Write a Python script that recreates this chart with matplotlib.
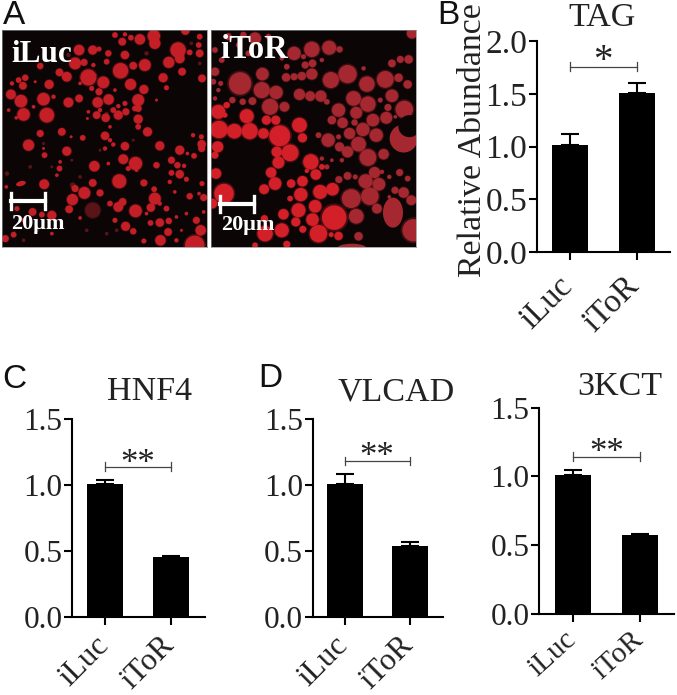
import matplotlib
matplotlib.use("Agg")
import matplotlib.pyplot as plt
from matplotlib.patches import Circle, Ellipse

W, H = 677, 695

categories = ["iLuc", "iToR"]

tag_values = [1.01, 1.51]
tag_errors = [0.11, 0.09]
hnf4_values = [1.01, 0.455]
hnf4_errors = [0.025, 0.01]
vlcad_values = [1.01, 0.54]
vlcad_errors = [0.07, 0.03]
kct_values = [1.01, 0.575]
kct_errors = [0.04, 0.005]

tag_ticks = [0.0, 0.5, 1.0, 1.5, 2.0]
other_ticks = [0.0, 0.5, 1.0, 1.5]

# droplets: x, y, radius
iluc_bright = [
    (345,105,8),(375,103,6),(367,125,11),(393,113,8),(420,118,15),(462,108,18),(465,130,16),
    (535,150,22),(540,175,14),(557,92,12),(600,110,8),(597,135,8),(600,160,11),(570,157,8),
    (237,150,15),(278,150,13),(297,147,7),(325,160,9),(375,165,12),(320,185,8),(225,190,17),
    (252,187,10),(507,187,16),(435,195,17),(400,197,11),(362,212,22),(265,232,23),(200,230,14),
    (178,217,11),(120,198,9),(310,247,17),(392,253,16),(547,215,11),(490,233,13),(607,235,11),
    (75,233,9),(55,240,8),(147,253,13),(68,257,11),(105,245,4),(32,283,14),(500,263,7),
    (432,268,13),(297,275,10),(275,265,7),(62,303,18),(130,297,18),(205,307,14),(237,295,11),
    (293,307,15),(326,298,15),(415,300,17),(375,310,7),(355,318,6),(340,330,8),(378,335,10),
    (355,345,13),(290,345,11),(317,353,12),(415,325,10),(415,357,13),(70,343,18),(140,345,21),
    (48,353,5),(265,335,5),(262,355,4),(415,380,8),(443,395,13),(120,400,10),(185,395,11),
    (248,413,8),(213,410,4),(315,407,12),(580,405,6),(605,410,7),(606,432,12),(606,445,10),
    (85,435,16),(330,420,6),(340,433,6),(375,438,12),(480,437,13),(540,450,13),(315,445,6),
    (200,453,13),(130,445,4),(133,465,8),(583,467,8),(563,460,5),(370,477,14),(407,490,19),
    (283,498,15),(180,485,5),(515,480,10),(470,495,9),(325,490,5),(178,505,8),(170,525,5),
    (533,495,9),(553,497,6),(385,505,7),(410,510,5),(515,518,8),(540,522,12),(358,543,20),
    (278,548,11),(432,548,10),(132,552,14),(560,537,7),(607,550,7),(300,578,10),(253,578,17),
    (225,565,10),(465,595,17),(463,567,8),(217,598,16),(570,588,9),(598,580,5),(612,592,10),
    (330,610,8),(368,605,11),(355,620,14),(407,632,18),(207,627,11),(453,622,12),(155,645,13),
    (97,635,11),(125,643,8),(500,625,8),(530,650,5),(240,653,5),(345,660,7),(377,678,13),
    (400,693,9),(452,668,8),(480,667,12),(507,662,9),(590,660,10),(612,635,5),(603,690,15),
    (505,695,11),(482,720,15),(432,722,7),(585,735,28),(530,720,6),(15,715,10),(40,703,8),
    (50,625,7),(18,560,5),(70,660,6),(155,700,5),(405,325,8),(330,380,5),(300,330,6),
    (470,300,4),(510,545,6),(525,575,5),(440,640,5),(480,610,6),(560,640,5),(545,690,4),
    (280,195,6),(345,270,5),(160,290,6),(100,320,5),(25,330,5),(35,250,6),(240,250,5),
]
iluc_dim = [
    (278,630,22),(218,555,8),(155,500,4),(600,190,5),(575,130,5),(440,160,6),(285,225,5),
    (320,340,5),(130,430,4),(20,520,6),(110,690,5),(260,690,5),(320,700,5),(205,165,6),
    (240,530,5),(215,480,4),(350,690,5),(470,720,4),(300,450,4),(400,420,4),(90,500,5),
    (60,600,5),(180,660,4),(70,720,5),
]
itor_bright = [
    (40,335,20),(125,348,20),(42,388,25),(88,393,21),(134,393,23),(175,400,15),(224,407,30),
    (283,375,21),(292,413,13),(212,360,13),(184,360,13),(38,440,16),(215,455,15),(255,458,24),
    (220,487,17),(198,517,15),(210,550,18),(177,567,14),(33,520,15),(57,580,28),(317,485,22),
    (292,543,15),(258,550,12),(287,583,19),(332,523,15),(345,575,20),(382,567,18),(280,630,20),
    (330,618,18),(235,642,15),(272,665,13),(322,658,18),(387,652,35),(340,700,25),(230,690,20),
    (180,700,22),(293,687,10),(378,703,7),(400,707,12),(245,732,10),(65,315,9),(60,345,7),
    (22,610,14),(30,465,10),(178,655,10),(255,595,8),(350,500,8),(305,512,6),(150,735,8),
]
itor_dim = [
    (105,250,32),(170,270,23),(213,277,19),(172,222,18),(195,320,23),(238,320,14),(142,303,11),
    (113,305,9),(82,300,9),(30,215,12),(25,245,8),(47,250,7),(283,283,16),(315,288,14),
    (347,288,16),(243,232,12),(267,230,10),(290,228,12),(320,222,16),(300,195,10),(322,190,11),
    (245,200,8),(267,160,19),(320,148,22),(372,143,20),(403,148,9),(150,115,17),(130,160,8),
    (100,135,7),(427,222,26),(377,240,23),(485,252,22),(540,238,24),(580,233,12),(607,253,12),
    (560,287,18),(445,295,21),(488,312,22),(400,330,19),(597,328,25),(548,322,10),(453,338,17),
    (380,360,12),(412,368,15),(503,360,18),(543,353,17),(448,367,9),(473,388,19),(433,400,16),
    (513,405,19),(369,420,19),(340,405,8),(460,432,21),(403,440,13),(427,455,16),(488,472,24),
    (535,462,15),(508,517,16),(481,543,20),(521,552,18),(427,527,11),(401,538,10),(450,530,7),
    (438,595,27),(494,588,25),(552,530,6),(583,517,10),(607,535,8),(569,570,10),(595,577,15),
    (618,600,14),(552,590,5),(515,625,14),(453,648,21),(560,190,11),(585,178,10),(610,178,12),
    (620,100,15),(460,708,12),(625,690,32),(50,180,8),(30,150,8),(365,500,7),(350,475,6),
    (70,110,10),(115,105,9),(190,110,8),(40,270,6),(30,295,6),(230,175,6),(295,170,7),(350,180,6),
    (365,305,8),(475,205,6),(525,300,7),(570,350,5),(400,410,7),(530,515,6),(410,480,6),(380,480,5),
]


def px_axes(fig, left, top, right, bottom):
    return fig.add_axes([left / W, 1 - bottom / H, (right - left) / W, (bottom - top) / H])


def draw_droplets(ax, drops, color):
    # soft rim first, the image is a bit blurred
    for x, y, r in drops:
        ax.add_patch(Circle((x, y), r * 1.22, fc=color, ec="none", alpha=0.3))
    for x, y, r in drops:
        ax.add_patch(Circle((x, y), r * 1.05, fc=color, ec="none"))


def micrograph(fig, rect, xlim, bright, dim, bright_color, dim_color):
    ax = px_axes(fig, *rect)
    ax.set_facecolor("#0c0506")
    ax.set_xlim(*xlim)
    ax.set_ylim(740, 90)
    ax.set_xticks([])
    ax.set_yticks([])
    for s in ax.spines.values():
        s.set_color("#888888")
        s.set_linewidth(0.5)
    draw_droplets(ax, dim, dim_color)
    draw_droplets(ax, bright, bright_color)
    return ax


def bar_panel(fig, rect, centers, ymax, ticks, values, errors, title, title_xy, stars, bracket_y,
              star_y, tick_size=22.5, bar_px=36, star_size=25, label_size=22.5, label_rot=45,
              label_dx=-11, label_dy=-14):
    left, top, right, bottom = rect
    ax = px_axes(fig, left, top, right, bottom)
    step = centers[1] - centers[0]
    ax.set_xlim((left - centers[0]) / step, (right - centers[0]) / step)
    ax.set_ylim(0, ymax)
    ax.patch.set_alpha(0)
    xs = [0, 1]
    ax.bar(xs, values, width=bar_px / step, color="black", zorder=2)
    ax.errorbar(xs, values, yerr=[[0, 0], errors], fmt="none", ecolor="black", elinewidth=1.5,
                capsize=6.5, capthick=1.5, zorder=1)
    ax.spines["top"].set_visible(False)
    ax.spines["right"].set_visible(False)
    ax.spines["left"].set_linewidth(1.5)
    ax.spines["bottom"].set_linewidth(1.5)
    ax.set_yticks(ticks)
    ax.set_yticklabels([f"{t:.1f}" for t in ticks], fontsize=tick_size, color="#222222")
    ax.set_xticks(xs)
    ax.set_xticklabels([])
    for x, name in zip(xs, categories):
        ax.annotate(name, (x, 0), xycoords=ax.get_xaxis_transform(),
                    xytext=(label_dx, label_dy), textcoords="offset pixels",
                    fontsize=label_size, rotation=label_rot, ha="right", va="top",
                    rotation_mode="anchor", color="#222222")
    ax.tick_params(axis="y", length=6, width=1.5, pad=1)
    ax.tick_params(axis="x", length=6, width=1.5, pad=4)
    ax.plot([0, 1], [bracket_y, bracket_y], color="#444444", lw=0.9, clip_on=False)
    tick = 0.032 * ymax / 1.5
    for x in xs:
        ax.plot([x, x], [bracket_y - tick, bracket_y + tick], color="#444444", lw=0.9, clip_on=False)
    ax.text(0.5, star_y, stars, ha="center", va="center", fontsize=star_size, color="#222222")
    fig.text(title_xy[0] / W, 1 - title_xy[1] / H, title, ha="center", va="center", fontsize=24.5,
             color="#222222")
    return ax


plt.rcParams["font.family"] = ["Liberation Serif", "DejaVu Serif"]

fig = plt.figure(figsize=(W / 100, H / 100), dpi=100, facecolor="white")

ax_a1 = micrograph(fig, (2, 30, 207, 247), (5, 622), iluc_bright, iluc_dim, "#c41e26", "#5a1418")
ax_a1.add_patch(Ellipse((62, 550), 30, 15, angle=-15, fc="#c41e26", ec="none"))
ax_a1.plot([33, 133], [603, 603], color="white", lw=3)
ax_a1.plot([33, 33], [578, 626], color="white", lw=2.4)
ax_a1.plot([133, 133], [578, 626], color="white", lw=2.4)
ax_a1.text(33, 163, "iLuc", color="white", fontsize=22.5, fontweight="bold", ha="left", va="center")
ax_a1.text(33, 672, "20μm", color="white", fontsize=16, fontweight="bold", ha="left", va="center")

ax_a2 = micrograph(fig, (211, 30, 416, 247), (18, 632), itor_bright, itor_dim, "#d21f28", "#a5272f")
ax_a2.add_patch(Circle((595, 415), 42, fc="#a5272f", ec="none"))
ax_a2.add_patch(Circle((612, 378), 33, fc="#0c0506", ec="none"))
ax_a2.add_patch(Ellipse((563, 637), 60, 90, fc="#a5272f", ec="none"))
ax_a2.add_patch(Ellipse((440, 745), 90, 30, fc="#a5272f", ec="none"))
ax_a2.plot([45, 148], [610, 610], color="white", lw=3)
ax_a2.plot([45, 45], [587, 634], color="white", lw=2.4)
ax_a2.plot([148, 148], [587, 634], color="white", lw=2.4)
ax_a2.text(45, 147, "iToR", color="white", fontsize=23.5, fontweight="bold", ha="left", va="center")
ax_a2.text(47, 675, "20μm", color="white", fontsize=16, fontweight="bold", ha="left", va="center")

ax_b = bar_panel(fig, (537, 41, 670, 252), (570, 636.5), 2.0, tag_ticks, tag_values, tag_errors,
                 "TAG", (602, 18), "*", 1.757, 1.81, tick_size=24, star_size=28,
                 label_size=23.5, label_dx=-13, label_dy=-19)
fig.text(473 / W, 1 - 140 / H, "Relative Abundance", rotation=90, ha="center", va="center",
         fontsize=24.4, color="#222222")

bar_panel(fig, (72, 419, 205, 617), (105, 171), 1.5, other_ticks, hnf4_values, hnf4_errors,
          "HNF4", (149, 392), "**", 1.14, 1.155)
bar_panel(fig, (312.7, 419, 443, 617), (344.5, 409.5), 1.5, other_ticks, vlcad_values, vlcad_errors,
          "VLCAD", (396, 392), "**", 1.18, 1.205)
bar_panel(fig, (539, 407.7, 674, 613.7), (572.5, 640), 1.5, other_ticks, kct_values, kct_errors,
          "3KCT", (620, 387), "**", 1.143, 1.163, label_size=21, label_rot=42, label_dx=-9,
          label_dy=-13)

# panel letters
for letter, x, y in [("A", 14, 16), ("B", 448, 15.5), ("C", 14, 379), ("D", 270, 378.5)]:
    fig.text(x / W, 1 - y / H, letter, fontsize=24, ha="center", va="center",
             family=["Liberation Sans", "DejaVu Sans"], color="#111111")

fig.savefig("out.png", dpi=100)
